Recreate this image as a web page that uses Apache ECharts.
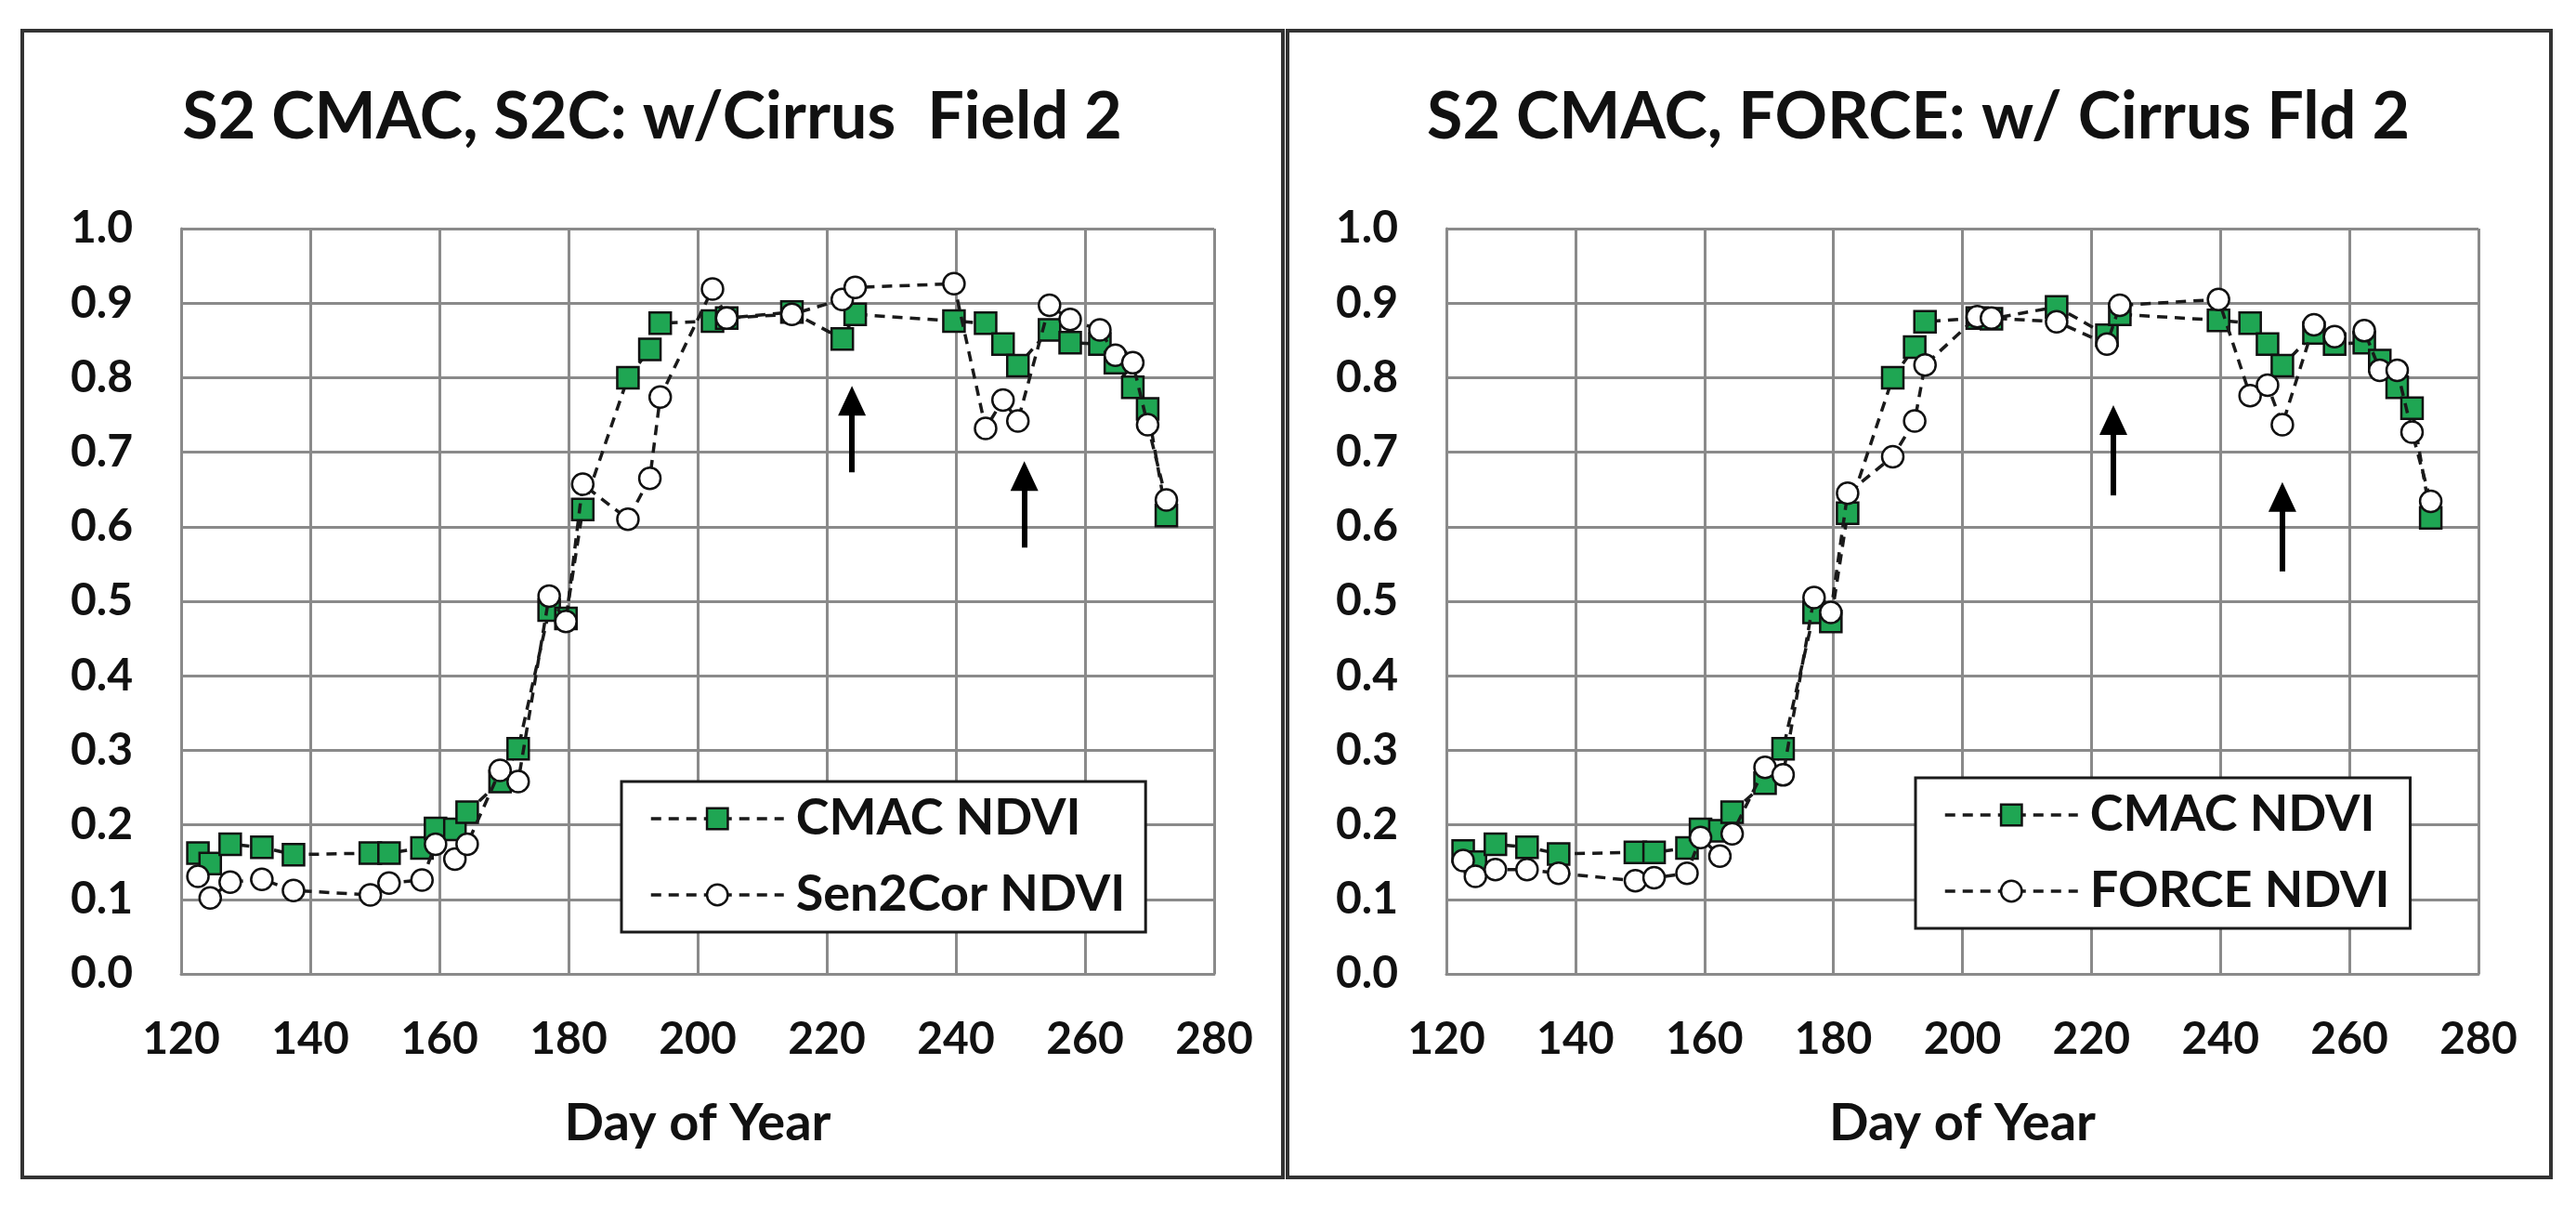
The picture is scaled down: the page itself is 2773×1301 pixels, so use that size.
<!DOCTYPE html>
<html>
<head>
<meta charset="utf-8">
<script src="https://cdn.jsdelivr.net/npm/echarts@6/dist/echarts.min.js"></script>
<style>
  html, body { margin: 0; padding: 0; background: #fff; }
  #chart { width: 2773px; height: 1301px; }
</style>
</head>
<body>
<div id="chart"></div>
<script>
// day of year of every acquisition, shared by all series
var doy = [122.6, 124.5, 127.6, 132.5, 137.4, 149.3, 152.2, 157.3, 159.4, 162.4,
           164.3, 169.4, 172.2, 177.0, 179.6, 182.2, 189.2, 192.6, 194.2, 202.3,
           204.5, 214.6, 222.4, 224.4, 239.7, 244.6, 247.3, 249.6, 254.5, 257.7,
           262.3, 264.7, 267.4, 269.7, 272.6];

// left panel
var cmacLeft = [0.162, 0.148, 0.174, 0.170, 0.160, 0.162, 0.162, 0.169, 0.195, 0.194,
                0.217, 0.258, 0.302, 0.488, 0.477, 0.623, 0.800, 0.838, 0.873, 0.876,
                0.880, 0.888, 0.852, 0.885, 0.876, 0.873, 0.845, 0.816, 0.864, 0.847,
                0.845, 0.820, 0.787, 0.758, 0.615];
var sen2cor = [0.131, 0.102, 0.123, 0.127, 0.112, 0.106, 0.122, 0.126, 0.174, 0.154,
               0.174, 0.273, 0.258, 0.507, 0.473, 0.657, 0.610, 0.665, 0.774, 0.919,
               0.880, 0.885, 0.905, 0.921, 0.926, 0.732, 0.770, 0.742, 0.897, 0.878,
               0.864, 0.830, 0.820, 0.737, 0.636];

// right panel
var cmacRight = [0.165, 0.150, 0.174, 0.170, 0.161, 0.163, 0.163, 0.169, 0.194, 0.192,
                 0.217, 0.256, 0.302, 0.485, 0.473, 0.618, 0.800, 0.841, 0.875, 0.880,
                 0.879, 0.895, 0.857, 0.885, 0.877, 0.873, 0.845, 0.816, 0.860, 0.845,
                 0.847, 0.823, 0.787, 0.759, 0.612];
var forceNdvi = [0.152, 0.131, 0.140, 0.140, 0.135, 0.125, 0.129, 0.135, 0.183, 0.158,
                 0.188, 0.277, 0.267, 0.505, 0.485, 0.645, 0.694, 0.742, 0.817, 0.882,
                 0.880, 0.875, 0.845, 0.897, 0.905, 0.776, 0.790, 0.737, 0.871, 0.855,
                 0.863, 0.810, 0.810, 0.727, 0.634];

// arrows: [day, base value, tip value]
var arrowsLeft = [[223.9, 0.673, 0.789], [250.6, 0.572, 0.688]];
var arrowsRight = [[223.4, 0.642, 0.763], [249.6, 0.540, 0.660]];

var titles = ['S2 CMAC, S2C: w/Cirrus  Field 2', 'S2 CMAC, FORCE: w/ Cirrus Fld 2'];
var xRange = [120, 280, 20];
var yRange = [0, 1, 0.1];

var FONT = 'Lato';
var GRID_GREY = '#8a8a8a';

function pairs(xs, ys) {
  return xs.map(function (x, i) { return [x, ys[i]]; });
}

function ndviSeries(name, values, idx, square) {
  return {
    name: name,
    type: 'line',
    xAxisIndex: idx,
    yAxisIndex: idx,
    data: pairs(doy, values),
    symbol: square ? 'rect' : 'circle',
    symbolSize: 23,
    lineStyle: { color: '#1a1a1a', width: 3.5, type: [11, 8] },
    itemStyle: {
      color: square ? '#1fa653' : '#ffffff',
      borderColor: '#111',
      borderWidth: 2.5
    },
    emphasis: { disabled: true },
    z: square ? 2 : 3
  };
}

function arrowMarks(arrows) {
  return {
    silent: true,
    symbol: ['none', 'triangle'],
    symbolSize: [30, 32],
    lineStyle: { color: '#000', width: 6, type: 'solid' },
    label: { show: false },
    data: arrows.map(function (a) {
      // the head is centred on the end point, so stop half a head short of the tip
      return [{ coord: [a[0], a[1]] }, { coord: [a[0], a[2] - 0.02] }];
    })
  };
}

function xAxis(idx) {
  return {
    type: 'value', gridIndex: idx,
    min: xRange[0], max: xRange[1], interval: xRange[2],
    name: 'Day of Year', nameLocation: 'middle', nameGap: 133,
    nameTextStyle: { fontFamily: FONT, fontWeight: 'bold', fontSize: 56, color: '#111' },
    axisLine: { show: true, onZero: false, lineStyle: { color: GRID_GREY, width: 3 } },
    axisTick: { show: false },
    axisLabel: { margin: 47, fontFamily: FONT, fontWeight: 'bold', fontSize: 48, color: '#111' },
    splitLine: { show: true, lineStyle: { color: GRID_GREY, width: 3 } }
  };
}

function yAxis(idx) {
  return {
    type: 'value', gridIndex: idx,
    min: yRange[0], max: yRange[1], interval: yRange[2],
    axisLine: { show: true, lineStyle: { color: GRID_GREY, width: 3 } },
    axisTick: { show: false },
    axisLabel: {
      margin: 52, fontFamily: FONT, fontWeight: 'bold', fontSize: 48, color: '#111',
      formatter: function (v) { return v.toFixed(1); }
    },
    splitLine: { show: true, lineStyle: { color: GRID_GREY, width: 3 } }
  };
}

function legend(names, left, top) {
  return {
    data: names,
    orient: 'vertical',
    left: left, top: top,
    padding: [12, 22, 12, 30],
    backgroundColor: '#fff',
    borderColor: '#1a1a1a',
    borderWidth: 3,
    itemWidth: 143,
    itemHeight: 28,
    itemGap: 26,
    selectedMode: false,
    itemStyle: { borderWidth: 2.5, borderColor: '#111' },
    lineStyle: { width: 3.5, type: [11, 8], color: '#1a1a1a' },
    textStyle: { fontFamily: FONT, fontWeight: 'bold', fontSize: 54, lineHeight: 56, color: '#111', padding: [0, 0, 0, 8] }
  };
}

var cmacL = ndviSeries('CMAC NDVI', cmacLeft, 0, true);
var s2c = ndviSeries('Sen2Cor NDVI', sen2cor, 0, false);
s2c.markLine = arrowMarks(arrowsLeft);
var cmacR = ndviSeries('CMAC NDVI', cmacRight, 1, true);
var frc = ndviSeries('FORCE NDVI', forceNdvi, 1, false);
frc.markLine = arrowMarks(arrowsRight);

var option = {
  backgroundColor: '#fff',
  animation: false,
  title: [
    { text: titles[0], left: 702, top: 91, textAlign: 'center', padding: 0,
      textStyle: { fontFamily: FONT, fontWeight: 'bold', fontSize: 70, color: '#111' } },
    { text: titles[1], left: 2065, top: 91, textAlign: 'center', padding: 0,
      textStyle: { fontFamily: FONT, fontWeight: 'bold', fontSize: 70, color: '#111' } }
  ],
  graphic: [
    { type: 'rect', silent: true, shape: { x: 24, y: 33, width: 1357, height: 1234 },
      style: { fill: 'none', stroke: '#333', lineWidth: 4 } },
    { type: 'rect', silent: true, shape: { x: 1386, y: 33, width: 1360, height: 1234 },
      style: { fill: 'none', stroke: '#333', lineWidth: 4 } }
  ],
  grid: [
    { left: 195, top: 246, width: 1112, height: 802, containLabel: false },
    { left: 1557, top: 246, width: 1111, height: 802, containLabel: false }
  ],
  xAxis: [xAxis(0), xAxis(1)],
  yAxis: [yAxis(0), yAxis(1)],
  legend: [
    legend(['CMAC NDVI', 'Sen2Cor NDVI'], 669, 841),
    legend(['CMAC NDVI', 'FORCE NDVI'], 2062, 837)
  ],
  series: [cmacL, s2c, cmacR, frc]
};

var chart = echarts.init(document.getElementById('chart'));
chart.setOption(option);
</script>
</body>
</html>
